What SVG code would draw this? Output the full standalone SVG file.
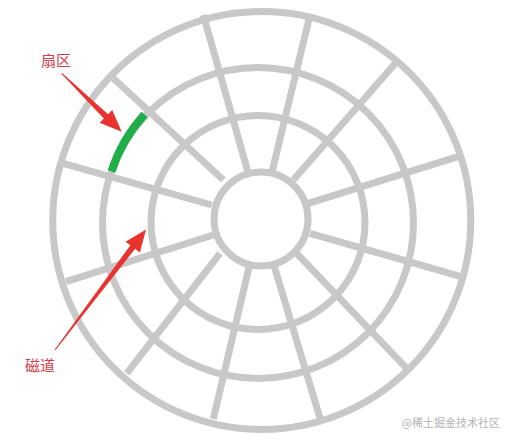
<svg xmlns="http://www.w3.org/2000/svg" width="510" height="441" viewBox="0 0 510 441">
<style>
.trk{fill:none;stroke:#c8c8c8;stroke-width:7}
.spk{stroke:#c8c8c8;stroke-width:7;stroke-linecap:butt}
.lbl{font-family:"Noto Sans CJK SC","Noto Sans",sans-serif;font-size:15px;fill:#d23c4a}
.arr{fill:#e8332f}
</style>
<rect width="510" height="441" fill="#ffffff"/>
<g id="disk">
<g id="spokes">
<line class="spk" x1="113.3" y1="78.3" x2="223.3" y2="180"/>
<line class="spk" x1="203.3" y1="15" x2="248.3" y2="173.3"/>
<line class="spk" x1="310" y1="15" x2="271.7" y2="173.3"/>
<line class="spk" x1="396.7" y1="61.7" x2="293.3" y2="180"/>
<line class="spk" x1="458" y1="156.7" x2="308.3" y2="203.3"/>
<line class="spk" x1="461" y1="276.7" x2="310" y2="233.3"/>
<line class="spk" x1="406.7" y1="368.3" x2="296.7" y2="253.3"/>
<line class="spk" x1="320" y1="418" x2="273.3" y2="263.3"/>
<line class="spk" x1="213.3" y1="419" x2="250" y2="263.3"/>
<line class="spk" x1="126.7" y1="373.3" x2="220" y2="253.3"/>
<line class="spk" x1="66" y1="281.7" x2="213.3" y2="235"/>
<line class="spk" x1="63" y1="163.3" x2="211.7" y2="205"/>
</g>
<circle id="track-outer" class="trk" cx="261.75" cy="220.5" r="209"/>
<circle id="track-2" class="trk" cx="258" cy="223" r="155.5"/>
<circle id="track-3" class="trk" cx="258" cy="222.5" r="107"/>
<circle id="hub" class="trk" cx="261" cy="219" r="47" style="fill:#ffffff"/>
</g>
<g id="sector">
<path d="M 144.5 114.5 A 155.5 155.5 0 0 0 111.5 171.5" fill="none" stroke="#1fae4a" stroke-width="8"/>
</g>
<g id="connectors">
<polygon class="arr" points="61.35,73.66 103.84,118.49 99.65,122.79 121.7,131.7 112.21,109.89 108.02,114.19 62.05,72.94"/>
<polygon class="arr" points="55.4,350.3 135.13,248.87 139.92,252.48 146,229.5 125.56,241.64 130.35,245.25 54.6,349.7"/>
</g>
<g id="label-sector"><text class="lbl" x="41" y="66">扇区</text></g>
<g id="label-track"><text class="lbl" x="25" y="371">磁道</text></g>
<text x="401.5" y="427" font-family="'Noto Sans CJK SC','Noto Sans',sans-serif" font-size="11" fill="#b4b4b4">@稀土掘金技术社区</text>
</svg>
